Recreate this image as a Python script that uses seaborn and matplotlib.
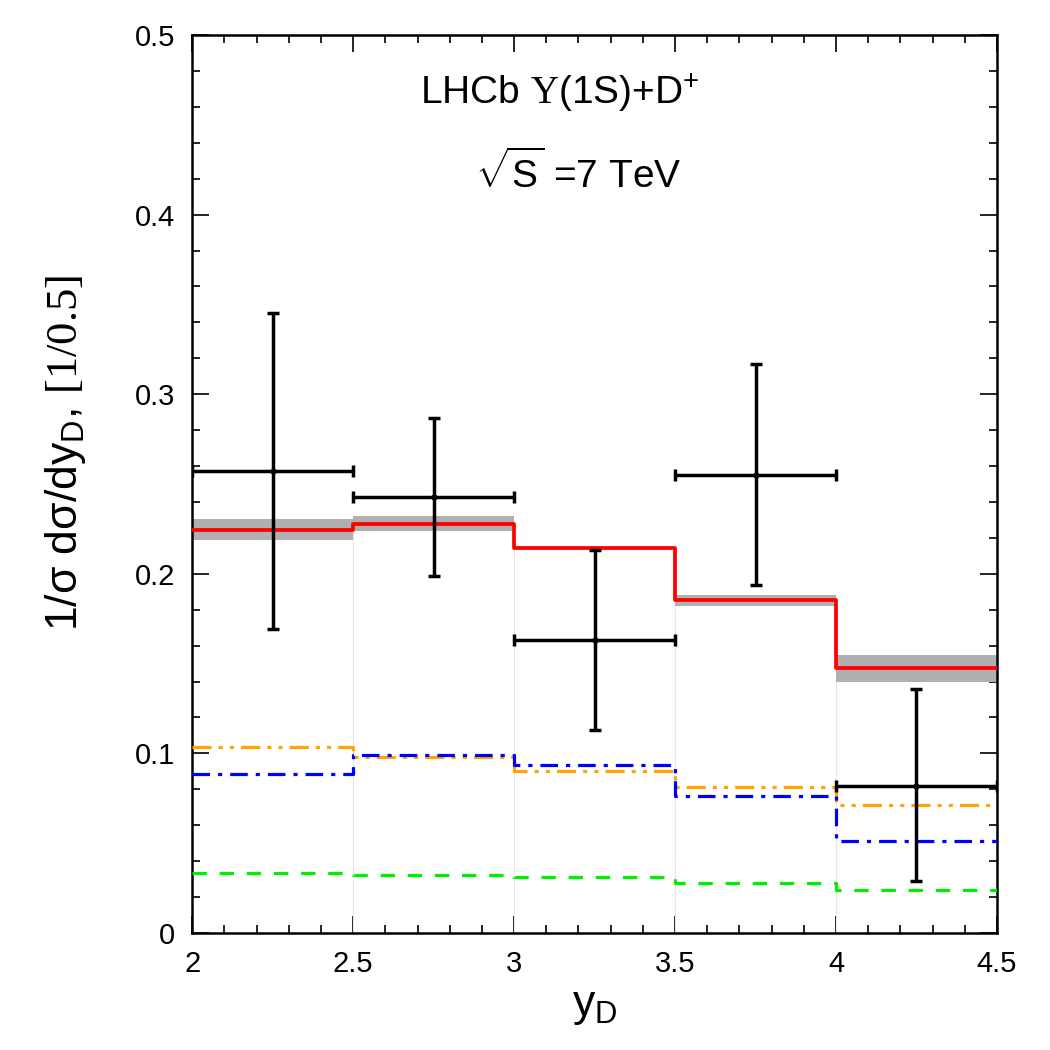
import numpy as np
import pandas as pd
import matplotlib
matplotlib.use("Agg")
import matplotlib.pyplot as plt
from matplotlib.ticker import MultipleLocator
import seaborn as sns

sns.set_theme(style="ticks", rc={'text.color': 'black', 'axes.labelcolor': 'black',
                                  'xtick.color': 'black', 'ytick.color': 'black'})
plt.rcParams['font.family'] = ['Liberation Sans', 'DejaVu Sans']
plt.rcParams['mathtext.fontset'] = 'custom'
plt.rcParams['mathtext.rm'] = 'Liberation Serif'
plt.rcParams['mathtext.sf'] = 'Liberation Sans'
plt.rcParams['mathtext.it'] = 'Liberation Sans:italic'

# bin edges in y_D
edges = [2.0, 2.5, 3.0, 3.5, 4.0, 4.5]

# LHCb data
data_x = [2.25, 2.75, 3.25, 3.75, 4.25]
data_y = [0.257, 0.243, 0.163, 0.255, 0.082]
data_up = [0.345, 0.287, 0.213, 0.317, 0.136]
data_lo = [0.169, 0.199, 0.113, 0.194, 0.029]

# theory curves
total = [0.2245, 0.2277, 0.2145, 0.1854, 0.1475]
total_hi = [0.2305, 0.2323, 0.2150, 0.1884, 0.1548]
total_lo = [0.2187, 0.2238, 0.2140, 0.1821, 0.1399]
orange_vals = [0.1034, 0.0978, 0.0904, 0.0815, 0.0711]
blue_vals = [0.0883, 0.0989, 0.0937, 0.0761, 0.0510]
green_vals = [0.0336, 0.0323, 0.0312, 0.0280, 0.0239]


def steps(vals):
    return pd.DataFrame({'x': edges, 'y': list(vals) + [vals[-1]]})


fig = plt.figure(figsize=(10.5, 10.5), dpi=100)
ax = fig.add_axes([0.183, 0.1114, 0.7665, 0.8553])

# faint bin edges of the histogram
for i in range(1, len(edges) - 1):
    ax.vlines(edges[i], 0, max(total[i - 1], total[i]), color='#e6e6e6', lw=0.8, zorder=1)

# uncertainty band
ax.fill_between(edges, list(total_lo) + [total_lo[-1]], list(total_hi) + [total_hi[-1]],
                step='post', color='#b0b0b0', lw=0, zorder=2)

sns.lineplot(data=steps(total), x='x', y='y', drawstyle='steps-post', color='red',
             lw=2.7, estimator=None, sort=False, ax=ax, zorder=3)
sns.lineplot(data=steps(orange_vals), x='x', y='y', drawstyle='steps-post', color='orange',
             lw=2.3, estimator=None, sort=False, ax=ax, zorder=3,
             dashes=False, linestyle=(0, (6, 2.2, 1.3, 2.2, 1.3, 2.2)))
sns.lineplot(data=steps(blue_vals), x='x', y='y', drawstyle='steps-post', color='blue',
             lw=2.3, estimator=None, sort=False, ax=ax, zorder=3,
             dashes=False, linestyle=(0, (5.5, 2.5, 1.3, 2.5)))
sns.lineplot(data=steps(green_vals), x='x', y='y', drawstyle='steps-post', color='#00ee00',
             lw=2.3, estimator=None, sort=False, ax=ax, zorder=3,
             dashes=False, linestyle=(0, (4.5, 4)))

yerr = [np.array(data_y) - np.array(data_lo), np.array(data_up) - np.array(data_y)]
ax.errorbar(data_x, data_y, xerr=0.25, yerr=yerr, fmt='o', ms=3.5, color='black',
            ecolor='black', elinewidth=2.5, capsize=4, capthick=2.5, zorder=5)

ax.set_xlim(2, 4.5)
ax.set_ylim(0, 0.5)
ax.xaxis.set_major_locator(MultipleLocator(0.5))
ax.xaxis.set_minor_locator(MultipleLocator(0.1))
ax.yaxis.set_major_locator(MultipleLocator(0.1))
ax.yaxis.set_minor_locator(MultipleLocator(0.02))
ax.set_xticks([2, 2.5, 3, 3.5, 4, 4.5])
ax.set_xticklabels(['2', '2.5', '3', '3.5', '4', '4.5'])
ax.set_yticks([0, 0.1, 0.2, 0.3, 0.4, 0.5])
ax.set_yticklabels(['0', '0.1', '0.2', '0.3', '0.4', '0.5'])
ax.tick_params(which='both', direction='in', top=True, right=True, width=1.2, color='black')
ax.tick_params(which='major', length=12, labelsize=21, pad=12, labelcolor='black')
ax.tick_params(which='minor', length=6)
for s in ax.spines.values():
    s.set_linewidth(1.8)
    s.set_color('black')

ax.set_xlabel(r'y$_\mathsf{D}$', fontsize=32, labelpad=6, color='black')
ax.set_ylabel(r'1/σ dσ/dy$_\mathsf{D}$, $\mathrm{[1/0.5]}$', fontsize=32, color='black')
ax.yaxis.set_label_coords(-0.13, 0.535)

ax.text(0.457, 0.935, r'LHCb $\mathrm{\Upsilon}$(1S)+D$^\mathsf{+}$', transform=ax.transAxes,
        ha='center', va='center', fontsize=28, color='black')
ax.text(0.48, 0.846, r'$\sqrt{\mathsf{S}}$ =7 TeV', transform=ax.transAxes,
        ha='center', va='center', fontsize=28, color='black')

fig.savefig('out.png', dpi=100)
